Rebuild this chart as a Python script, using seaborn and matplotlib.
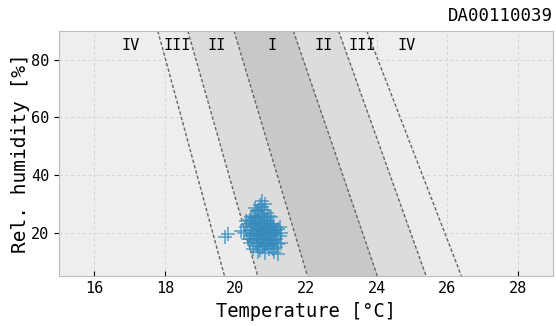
import matplotlib
matplotlib.use("Agg")
import matplotlib.pyplot as plt
import seaborn as sns
import pandas as pd

# comfort boundary lines: temperature at RH=90 (top) and RH=5 (bottom)
rh_ends = [90, 5]
bound_top = [17.80, 18.65, 19.96, 21.64, 22.92, 23.72]
bound_bot = [19.69, 20.63, 22.04, 24.02, 25.40, 26.40]

cat_labels = ["IV", "III", "II", "I", "II", "III", "IV"]
cat_x = [17.02, 18.36, 19.47, 21.04, 22.49, 23.60, 24.86]
cat_y = 85

temp = [19.70, 19.80, 20.15, 20.30, 20.35, 20.40, 20.40, 20.45, 20.50, 20.50,
        20.50, 20.55, 20.55, 20.60, 20.60, 20.60, 20.65, 20.65, 20.65, 20.70,
        20.70, 20.70, 20.75, 20.75, 20.75, 20.75, 20.80, 20.80, 20.80, 20.85,
        20.85, 20.85, 20.90, 20.90, 20.95, 20.95, 20.95, 21.00, 21.00, 21.00,
        21.05, 21.05, 21.10, 21.10, 21.15, 21.15, 21.20, 21.20, 21.25, 21.30,
        20.45, 20.55, 20.65, 20.85, 20.90, 21.00, 20.60, 20.70, 20.80, 20.35,
        20.25, 20.30, 20.40, 20.45, 20.50, 20.55, 20.60, 20.65, 20.70, 20.75,
        20.80, 20.85, 20.90, 20.95, 21.00, 21.05, 21.10, 21.15, 21.20, 21.25,
        20.50, 20.60, 20.70, 20.80, 20.90, 21.00, 21.10, 20.65, 20.75, 20.85,
        20.55, 20.75, 20.95, 21.05, 20.45, 20.70, 20.80, 20.90, 21.15, 21.30]
rhum = [18.5, 19.5, 20.5, 22.0, 18.0, 24.5, 16.5, 21.0, 26.0, 19.5,
        14.5, 23.0, 17.0, 27.5, 21.5, 15.5, 25.0, 19.0, 13.5, 29.5,
        23.5, 17.5, 31.0, 26.5, 20.5, 15.0, 28.0, 22.5, 18.5, 24.5,
        16.0, 13.0, 27.0, 20.0, 22.0, 17.5, 14.5, 25.5, 19.0, 15.5,
        23.0, 17.0, 20.5, 13.5, 18.0, 15.0, 21.5, 12.5, 19.0, 16.5,
        25.5, 28.5, 22.0, 30.0, 18.0, 21.0, 18.0, 20.0, 15.5, 23.0,
        20.0, 24.0, 19.0, 23.5, 17.5, 20.5, 24.0, 16.5, 21.5, 18.0,
        25.5, 19.5, 23.5, 19.5, 23.0, 20.0, 17.5, 21.0, 16.0, 22.0,
        22.5, 19.5, 26.0, 20.5, 16.0, 17.5, 22.5, 28.0, 23.0, 21.5,
        25.0, 29.0, 26.0, 14.5, 18.0, 14.0, 17.0, 24.0, 19.5, 20.0]

title = "DA00110039"
xlabel = "Temperature [°C]"
ylabel = "Rel. humidity [%]"

plt.style.use("bmh")
plt.rcParams["font.family"] = ["DejaVu Sans Mono"]
plt.rcParams["font.size"] = 11

fig = plt.figure(figsize=(5.56, 3.26), dpi=100)
ax = fig.add_axes([0.106, 0.153, 0.889, 0.752])
ax.set_facecolor("#eeeeee")

band_colors = {"III": "#ececec", "II": "#dcdcdc", "I": "#c8c8c8"}
ax.fill_betweenx(rh_ends, [bound_top[0], bound_bot[0]], [bound_top[5], bound_bot[5]],
                 color=band_colors["III"], zorder=1, lw=0)
ax.fill_betweenx(rh_ends, [bound_top[1], bound_bot[1]], [bound_top[4], bound_bot[4]],
                 color=band_colors["II"], zorder=1, lw=0)
ax.fill_betweenx(rh_ends, [bound_top[2], bound_bot[2]], [bound_top[3], bound_bot[3]],
                 color=band_colors["I"], zorder=1, lw=0)
for t0, t1 in zip(bound_top, bound_bot):
    ax.plot([t0, t1], rh_ends, ls=(0, (2.5, 1.5)), color="#666666", lw=1.0, zorder=2)

for lab, x in zip(cat_labels, cat_x):
    ax.text(x, cat_y, lab, ha="center", va="center", fontsize=11, zorder=3)

df = pd.DataFrame({"temp": temp, "rh": rhum})
sns.scatterplot(data=df, x="temp", y="rh", marker="+", s=100, color="#348ABD",
                alpha=0.8, linewidth=1.1, ax=ax, zorder=4)

ax.set_xlim(15, 29)
ax.set_ylim(5, 90)
ax.set_xticks([16, 18, 20, 22, 24, 26, 28])
ax.set_yticks([20, 40, 60, 80])
ax.tick_params(axis="x", direction="in", labelsize=11)
ax.tick_params(axis="y", direction="out", labelsize=11)
ax.grid(True, ls=(0, (4, 3)), lw=0.6, color="#d2d2d2", zorder=0)
ax.set_axisbelow(True)
ax.set_xlabel(xlabel, fontsize=13.5)
ax.set_ylabel(ylabel, fontsize=14, labelpad=1)
ax.set_title(title, loc="right", fontsize=12.5, pad=7)
for s in ax.spines.values():
    s.set_color("#bcbcbc")

fig.savefig("out.png", dpi=100)
